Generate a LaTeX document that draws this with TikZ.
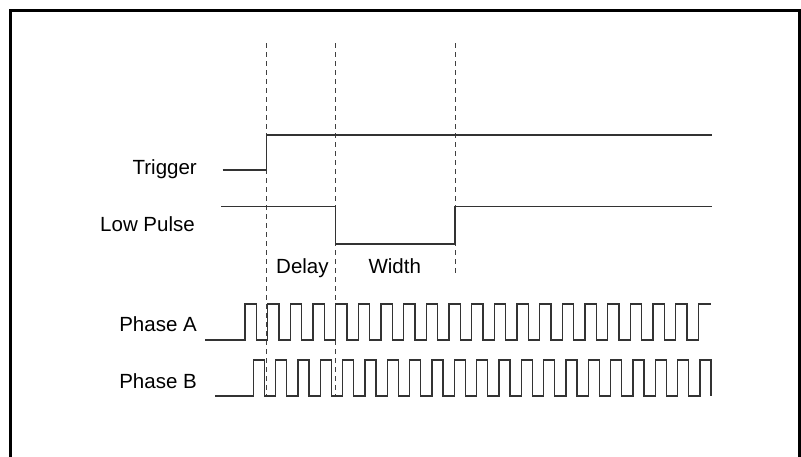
\documentclass[tikz,border=0pt]{standalone}
\usepackage{fontspec}
\setmainfont{Liberation Sans}
\usetikzlibrary{positioning}
\tikzset{signal/.style = {draw = black!80, line width = 1.1pt},
  guide/.style = {draw = black!75, line width = 0.9pt, dash pattern = on 5pt off 4pt},
  lbl/.style = {inner sep = 0, font = \fontsize{20.5}{24}\selectfont}}

\begin{document}
\begin{tikzpicture}[x = 1pt, y = -1pt]
      \useasboundingbox (0, 0) rectangle (801, 456);
      % frame, open at the bottom
      \draw [line width = 3pt] (10.5, 460) -- (10.5, 10.5) -- (799.5, 10.5) -- (799.5, 460);
      % labels
      \node [lbl, anchor = base east] (trig) at (197, 174) {Trigger};
      \node [lbl, anchor = base east] (low) at (195, 231.7) {Low Pulse};
      \node [lbl, anchor = base east] (phA) at (197, 331) {Phase A};
      \node [lbl, anchor = base east] (phB) at (197, 388) {Phase B};
      \node [lbl, anchor = base west] (delay) at (276, 273.3) {Delay};
      \node [lbl, anchor = base west] (width) at (368.3, 273.3) {Width};
      % guides
      \draw [guide] (266.7, 43) -- (266.7, 396);
      \draw [guide] (335.7, 43) -- (335.7, 396);
      \draw [guide] (455, 43) -- (455, 273);
      % trigger and low pulse
      \draw [signal] (222.7, 170) -- (266.7, 170) -- (266.7, 135) -- (712, 135);
      \draw [signal] (221, 206.7) -- (335.7, 206.7) -- (335.7, 244) -- (455, 244)
        -- (455, 206.7) -- (712, 206.7);
      % encoder phases
      \draw [signal] (205, 340)
        foreach \k in {0, ..., 19} {
          -- ({245 + 22.667 * \k}, 340) -- ++(0, -36) -- ++(11.33, 0) -- ++(0, 36)
        }
        -- (698.3, 340) -- (698.3, 304) -- (711, 304);
      \draw [signal] (215, 396)
        foreach \k in {0, ..., 20} {
          -- ({253.3 + 22.333 * \k}, 396) -- ++(0, -36) -- ++(11, 0) -- ++(0, 36)
        };
    \end{tikzpicture}
\end{document}
